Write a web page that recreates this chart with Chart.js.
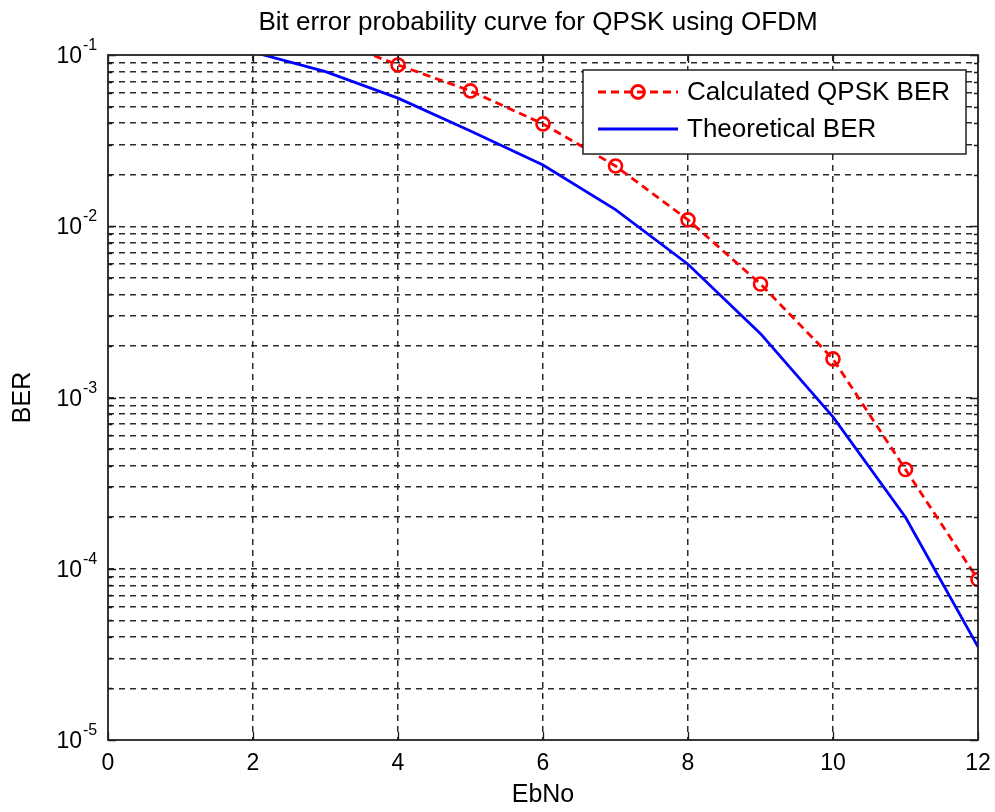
<!DOCTYPE html>
<html>
<head>
<meta charset="utf-8">
<script src="https://cdn.jsdelivr.net/npm/chart.js@4/dist/chart.umd.min.js"></script>
<style>
  html, body { margin: 0; padding: 0; background: #fff; }
  #c { display: block; }
</style>
</head>
<body>
<canvas id="c" width="995" height="812"></canvas>
<script>
// ---- data ----
const titleText = 'Bit error probability curve for QPSK using OFDM';
const xLabel = 'EbNo';
const yLabel = 'BER';

const calcEbNo = [3, 4, 5, 6, 7, 8, 9, 10, 11, 12];
const calcBER  = [0.127, 0.0875, 0.0617, 0.0396, 0.0225, 0.0109, 0.0046, 0.00168, 0.00038, 0.0000865];

const theoEbNo = [2, 3, 4, 5, 6, 7, 8, 9, 10, 11, 12];
const theoBER  = [0.104, 0.080, 0.0560, 0.0360, 0.0228, 0.0125, 0.0060, 0.00236, 0.00077, 0.000200, 0.0000350];

const legendLabels = ['Calculated QPSK BER', 'Theoretical BER'];

const xTickValues = [0, 2, 4, 6, 8, 10, 12];
const yDecades = [1e-5, 1e-4, 1e-3, 1e-2, 1e-1];
const yDecadeExponents = ['-5', '-4', '-3', '-2', '-1'];
const yMinorMultipliers = [2, 3, 4, 5, 6, 7, 8, 9];

// grid values on the log axis (decades + minor ticks)
const yGridValues = [];
yDecades.forEach((d, i) => {
  yGridValues.push(d);
  if (i < yDecades.length - 1) yMinorMultipliers.forEach(m => yGridValues.push(m * d));
});

const FONT = '"Liberation Sans", Arial, sans-serif';
const RED = '#ff0000';
const BLUE = '#0000ff';
const GRID = '#2a2a2a';

const toXY = (xs, ys) => xs.map((x, i) => ({ x: x, y: ys[i] }));

const decoPlugin = {
  id: 'deco',
  beforeDraw(chart) {
    const ctx = chart.ctx;
    ctx.save();
    ctx.fillStyle = '#fff';
    ctx.fillRect(0, 0, chart.width, chart.height);
    ctx.restore();
  },
  afterDraw(chart) {
    const { ctx, chartArea: a, scales } = chart;
    const xs = scales.x, ys = scales.y;
    ctx.save();

    // inward tick marks
    ctx.strokeStyle = '#1a1a1a';
    ctx.lineWidth = 1.3;
    ctx.setLineDash([]);
    ctx.beginPath();
    xTickValues.forEach(v => {
      const px = Math.round(xs.getPixelForValue(v)) + 0.5;
      ctx.moveTo(px, a.bottom); ctx.lineTo(px, a.bottom - 8);
      ctx.moveTo(px, a.top); ctx.lineTo(px, a.top + 8);
    });
    yGridValues.forEach(v => {
      const py = Math.round(ys.getPixelForValue(v)) + 0.5;
      const len = yDecades.includes(v) ? 8 : 4;
      ctx.moveTo(a.left, py); ctx.lineTo(a.left + len, py);
      ctx.moveTo(a.right, py); ctx.lineTo(a.right - len, py);
    });
    ctx.stroke();

    // axes box
    ctx.strokeStyle = '#222';
    ctx.lineWidth = 1.8;
    ctx.strokeRect(a.left, a.top, a.right - a.left, a.bottom - a.top);

    // y tick labels: 10^n
    ctx.fillStyle = '#000';
    ctx.textBaseline = 'alphabetic';
    yDecades.forEach((d, i) => {
      const py = ys.getPixelForValue(d);
      ctx.font = '23px ' + FONT;
      ctx.textAlign = 'right';
      ctx.fillText('10', a.left - 26, py + 8);
      ctx.font = '16px ' + FONT;
      ctx.textAlign = 'left';
      ctx.fillText(yDecadeExponents[i], a.left - 25, py - 5);
    });

    // title
    ctx.font = '26px ' + FONT;
    ctx.textAlign = 'center';
    ctx.fillText(titleText, (a.left + a.right) / 2 - 5, a.top - 25);

    // legend
    const lw = 383, lh = 84;
    const lx = a.right - 12 - lw, ly = a.top + 15;
    ctx.fillStyle = '#fff';
    ctx.fillRect(lx, ly, lw, lh);
    ctx.strokeStyle = '#222';
    ctx.lineWidth = 1.5;
    ctx.strokeRect(lx, ly, lw, lh);
    const rows = [ly + 22, ly + 59];
    // red dashed sample with marker
    ctx.strokeStyle = RED;
    ctx.lineWidth = 2.8;
    ctx.setLineDash([8, 5]);
    ctx.beginPath();
    ctx.moveTo(lx + 15, rows[0]); ctx.lineTo(lx + 95, rows[0]);
    ctx.stroke();
    ctx.setLineDash([]);
    ctx.beginPath();
    ctx.arc(lx + 55, rows[0], 6.5, 0, Math.PI * 2);
    ctx.stroke();
    // blue solid sample
    ctx.strokeStyle = BLUE;
    ctx.beginPath();
    ctx.moveTo(lx + 15, rows[1]); ctx.lineTo(lx + 95, rows[1]);
    ctx.stroke();
    // texts
    ctx.fillStyle = '#000';
    ctx.font = '26px ' + FONT;
    ctx.textAlign = 'left';
    ctx.textBaseline = 'middle';
    ctx.fillText(legendLabels[0], lx + 104, rows[0] + 1);
    ctx.fillText(legendLabels[1], lx + 104, rows[1] + 1);

    ctx.restore();
  }
};

new Chart(document.getElementById('c'), {
  type: 'line',
  data: {
    datasets: [
      {
        label: legendLabels[0],
        data: toXY(calcEbNo, calcBER),
        borderColor: RED,
        borderWidth: 2.8,
        borderDash: [8, 5],
        pointStyle: 'circle',
        pointRadius: 6.5,
        pointBorderWidth: 2.6,
        pointBorderColor: RED,
        pointBackgroundColor: 'rgba(255,255,255,0)',
        fill: false,
        tension: 0
      },
      {
        label: legendLabels[1],
        data: toXY(theoEbNo, theoBER),
        borderColor: BLUE,
        borderWidth: 2.8,
        pointRadius: 0,
        fill: false,
        tension: 0
      }
    ]
  },
  options: {
    responsive: false,
    animation: false,
    events: [],
    layout: { padding: { top: 55, right: 17, left: 0, bottom: 0 } },
    plugins: {
      legend: { display: false },
      title: { display: false },
      tooltip: { enabled: false }
    },
    scales: {
      x: {
        type: 'linear',
        min: 0, max: 12,
        afterBuildTicks: s => { s.ticks = xTickValues.map(v => ({ value: v })); },
        afterFit: s => { s.height = 72; s.paddingLeft = 0; s.paddingRight = 0; },
        ticks: { color: '#000', font: { family: FONT, size: 23 }, padding: 10, maxRotation: 0, autoSkip: false },
        grid: {
          color: c => (c.tick && (c.tick.value === 0 || c.tick.value === 12)) ? 'rgba(0,0,0,0)' : GRID,
          lineWidth: 1.5,
          drawTicks: false
        },
        border: { display: false, dash: [6, 5] },
        title: { display: true, text: xLabel, color: '#000', font: { family: FONT, size: 25 }, padding: { top: 0, bottom: 2 } }
      },
      y: {
        type: 'logarithmic',
        min: 1e-5, max: 1e-1,
        afterBuildTicks: s => { s.ticks = yGridValues.map(v => ({ value: v, major: yDecades.includes(v) })); },
        afterFit: s => { s.width = 108; s.paddingTop = 0; s.paddingBottom = 0; },
        ticks: { display: false },
        grid: {
          color: c => (c.tick && (c.tick.value === 1e-5 || c.tick.value === 1e-1)) ? 'rgba(0,0,0,0)' : GRID,
          lineWidth: 1.5,
          drawTicks: false
        },
        border: { display: false, dash: [6, 5] },
        title: { display: true, text: yLabel, color: '#000', font: { family: FONT, size: 25 }, padding: { top: 8, bottom: 0 } }
      }
    }
  },
  plugins: [decoPlugin]
});
</script>
</body>
</html>
